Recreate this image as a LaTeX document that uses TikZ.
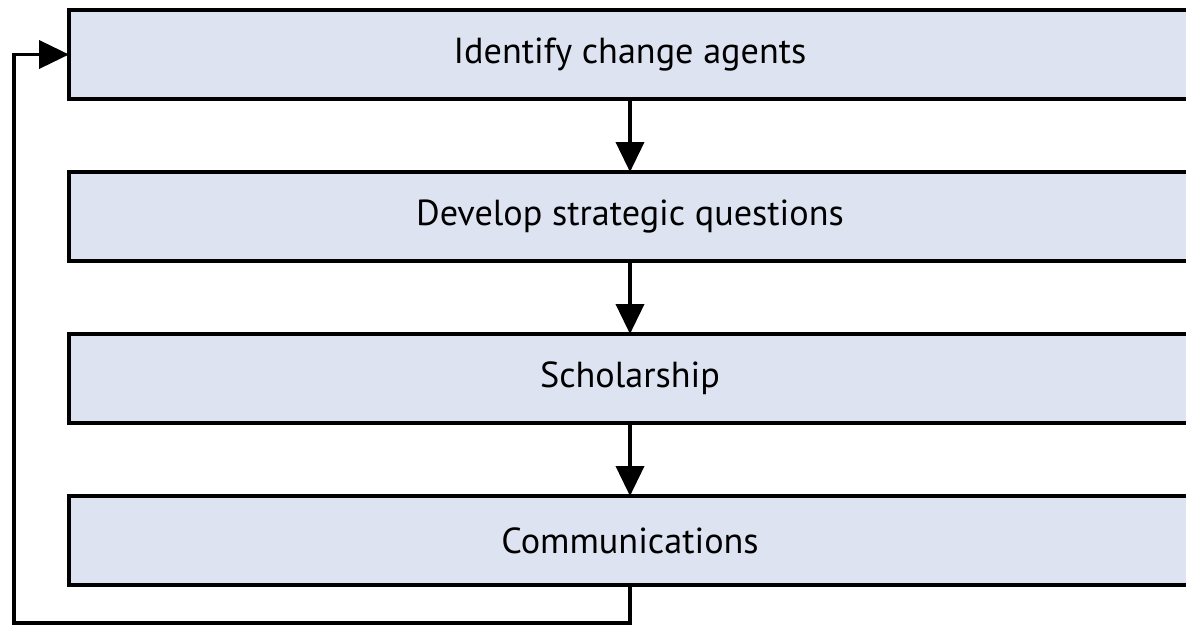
\documentclass[tikz,border=0pt]{standalone}
\usepackage{fontspec}
\setmainfont{PT Sans}
\usetikzlibrary{positioning,arrows.meta}
\definecolor{stageblue}{HTML}{DEE3F2}

\begin{document}
\begin{tikzpicture}[
    stage/.style={draw, line width=1.1pt, fill=stageblue, minimum width=11.22cm,
      minimum height=0.89cm, inner sep=0pt, outer sep=0pt,
      font=\fontsize{10.3}{12}\selectfont},
    flow/.style={line width=1.1pt, -{Triangle[width=0.28cm,length=0.3cm]}}]
  \useasboundingbox (0,0) rectangle (11.86,-6.26);
  \clip (0,0) rectangle (11.86,-6.26);

  % Draw the stages
  \node[stage] (agents) at (6.30,-0.545) {Identify change agents};
  \node[stage, below=0.73cm of agents] (questions) {Develop strategic questions};
  \node[stage, below=0.73cm of questions] (scholarship) {Scholarship};
  \node[stage, below=0.73cm of scholarship] (comms) {Communications};

  % Draw the arrows between the stages
  \draw[flow] (agents) -- (questions);
  \draw[flow] (questions) -- (scholarship);
  \draw[flow] (scholarship) -- (comms);

  % Draw the loop back to the top
  \coordinate[below=0.38cm of comms.south] (turn);
  \coordinate (edge) at (0.14,0);
  \draw[flow, line join=miter] (comms.south) -- (turn) -- (turn -| edge)
    -- (edge |- agents.west) -- (agents.west);
\end{tikzpicture}
\end{document}
